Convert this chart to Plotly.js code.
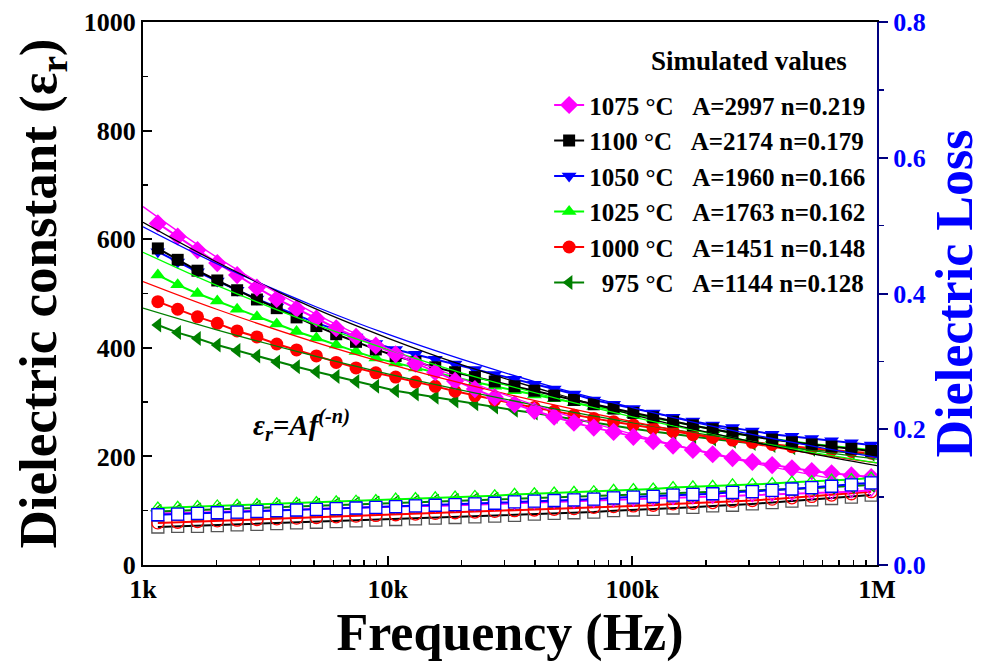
<!DOCTYPE html>
<html>
<head>
<meta charset="utf-8">
<script src="https://cdn.plot.ly/plotly-3.0.1.min.js"></script>
<style>html,body{margin:0;padding:0;background:#fff;}</style>
</head>
<body>
<div id="chart" style="width:984px;height:664px;"></div>
<script>
// Measurement frequencies (Hz)
const freq = [1150, 1386, 1670, 2012, 2425, 2922, 3521, 4243, 5113, 6161,
  7424, 8946, 10780, 12990, 15650, 18860, 22730, 27390, 33000, 39770,
  47920, 57740, 69580, 83840, 101000, 121700, 146700, 176800, 213000, 256700,
  309300, 372700, 449100, 541200, 652100, 785800, 946900];

// Dielectric constant (left axis)
const eps1075 = [629, 605, 580, 556, 534, 511, 490, 472, 454, 436,
  420, 404, 388, 371, 355, 339, 324, 309, 296, 284,
  273, 262, 253, 245, 236, 228, 220, 212, 204, 197,
  190, 184, 178, 173, 169, 165, 162];
const eps1100 = [583, 562, 542, 524, 506, 489, 473, 456, 440, 425,
  411, 397, 385, 374, 364, 355, 346, 338, 329, 321,
  312, 304, 296, 288, 280, 272, 264, 257, 250, 243,
  237, 231, 226, 222, 218, 214, 210];
const eps1050 = [577, 558, 540, 523, 506, 490, 475, 460, 446, 433,
  420, 408, 397, 388, 379, 370, 360, 351, 342, 333,
  324, 315, 304, 296, 288, 280, 272, 265, 258, 253,
  247, 241, 237, 233, 229, 225, 221];
const eps1025 = [534, 516, 500, 486, 471, 457, 444, 430, 418, 405,
  393, 381, 372, 363, 354, 345, 337, 329, 321, 313,
  306, 299, 292, 284, 277, 270, 263, 256, 249, 243,
  237, 232, 227, 223, 219, 215, 212];
const eps1000 = [485, 471, 457, 445, 431, 420, 407, 396, 385, 373,
  363, 354, 346, 337, 329, 320, 312, 304, 297, 290,
  283, 276, 270, 264, 258, 252, 246, 240, 235, 230,
  226, 222, 218, 215, 212, 209, 206];
const eps975 = [442, 428, 417, 405, 395, 385, 374, 365, 356, 347,
  338, 329, 321, 315, 309, 302, 297, 291, 285, 280,
  274, 268, 262, 256, 251, 246, 241, 236, 232, 228,
  224, 220, 216, 213, 210, 207, 204];

// Simulated (fit) curves read at these frequencies
const fitFreq = [1000, 2000, 5000, 10000, 20000, 50000, 100000, 200000, 500000, 1000000];
const fit1075 = [660, 567, 464, 399, 343, 280, 241, 207, 169, 145];
const fit1100 = [631, 558, 473, 418, 369, 314, 277, 245, 208, 183];
const fit1050 = [623, 555, 477, 425, 379, 325, 290, 258, 222, 198];
const fit1025 = [576, 515, 444, 397, 354, 306, 273, 244, 210, 188];
const fit1000 = [522, 471, 411, 371, 335, 293, 264, 238, 208, 188];
const fit975  = [473, 433, 385, 352, 322, 286, 262, 240, 213, 195];

// Dielectric loss (right axis)
const loss1075 = [.076, .076, .077, .078, .079, .080, .081, .082, .082, .083,
  .084, .085, .086, .087, .087, .088, .089, .090, .091, .092,
  .093, .093, .094, .095, .096, .097, .098, .099, .100, .101,
  .102, .103, .104, .105, .106, .108, .110];
const loss1100 = [.056, .057, .057, .058, .059, .060, .061, .062, .063, .064,
  .065, .066, .067, .068, .069, .070, .071, .072, .073, .075,
  .076, .077, .078, .080, .081, .082, .084, .085, .087, .088,
  .090, .092, .094, .096, .098, .100, .103];
const loss1050 = [.074, .075, .076, .077, .078, .079, .080, .081, .082, .083,
  .084, .085, .086, .087, .088, .089, .090, .091, .093, .094,
  .095, .096, .097, .099, .100, .101, .103, .104, .105, .107,
  .108, .110, .112, .114, .116, .118, .121];
const loss1025 = [.084, .085, .086, .087, .088, .089, .090, .091, .092, .093,
  .094, .095, .097, .098, .099, .100, .101, .102, .104, .105,
  .106, .107, .108, .110, .111, .112, .114, .115, .116, .118,
  .119, .120, .122, .123, .125, .126, .128];
const loss1000 = [.062, .063, .064, .065, .066, .067, .068, .069, .070, .071,
  .072, .073, .074, .075, .076, .077, .078, .079, .080, .081,
  .082, .083, .085, .086, .087, .088, .090, .091, .092, .094,
  .095, .097, .099, .101, .103, .105, .108];
const loss975 = [.079, .080, .081, .082, .083, .085, .086, .087, .088, .089,
  .090, .091, .092, .093, .094, .095, .096, .097, .098, .099,
  .100, .101, .102, .103, .104, .105, .106, .107, .108, .109,
  .110, .111, .112, .113, .115, .116, .118];

const SP = '\u00A0\u00A0\u00A0';
const legendLabels = {
  t1075: '1075 °C' + SP + 'A=2997 n=0.219',
  t1100: '1100 °C' + SP + 'A=2174 n=0.179',
  t1050: '1050 °C' + SP + 'A=1960 n=0.166',
  t1025: '1025 °C' + SP + 'A=1763 n=0.162',
  t1000: '1000 °C' + SP + 'A=1451 n=0.148',
  t975:  '\u00A0\u00A0975 °C' + SP + 'A=1144 n=0.128'
};
const tickVals = [1e3, 1e4, 1e5, 1e6];
const tickText = ['1k', '10k', '100k', '1M'];

const C = {m:'#FF00FF', k:'#000000', b:'#0000FF', g:'#00FF00', r:'#FF0000', dg:'#008000'};
const FONT = 'Liberation Serif, Times New Roman, serif';

function dataTrace(y, color, symbol, name, rank, size) {
  return {x: freq, y: y, type:'scatter', mode:'lines+markers', name: name, legendrank: rank,
    line:{color: color, width: 2}, marker:{symbol: symbol, size: size || 13, color: color}};
}
function fitTrace(y, color) {
  return {x: fitFreq, y: y, type:'scatter', mode:'lines', showlegend:false,
    line:{color: color, width: 1.3, shape:'spline', smoothing: 1}, hoverinfo:'skip'};
}
function lossTrace(y, color, symbol, fill, lineColor) {
  return {x: freq, y: y, yaxis:'y2', type:'scatter', mode:'lines+markers', showlegend:false,
    line:{color: lineColor || color, width: 2},
    marker:{symbol: symbol, size: 12, color: fill || color, line:{color: color, width: 1.3}}};
}

const traces = [
  dataTrace(eps975, C.dg, 'triangle-left', legendLabels.t975, 6),
  dataTrace(eps1000, C.r, 'circle', legendLabels.t1000, 5),
  dataTrace(eps1025, C.g, 'triangle-up', legendLabels.t1025, 4),
  dataTrace(eps1050, C.b, 'triangle-down', legendLabels.t1050, 3),
  dataTrace(eps1100, C.k, 'square', legendLabels.t1100, 2, 12),
  dataTrace(eps1075, C.m, 'diamond', legendLabels.t1075, 1, 14),
  fitTrace(fit975, C.dg),
  fitTrace(fit1000, C.r),
  fitTrace(fit1025, C.g),
  fitTrace(fit1050, C.b),
  fitTrace(fit1100, C.k),
  fitTrace(fit1075, C.m),
  lossTrace(loss1100, '#555555', 'square-open', null, '#000000'),
  lossTrace(loss1000, C.r, 'circle-open'),
  lossTrace(loss1075, C.m, 'triangle-down-open'),
  lossTrace(loss975, C.dg, 'triangle-left-open'),
  lossTrace(loss1025, C.g, 'triangle-up-open'),
  lossTrace(loss1050, C.b, 'square', '#FFFFFF')
];

const minorX = [];
[1e3, 1e4, 1e5].forEach(d => { for (let k = 2; k <= 9; k++) minorX.push(d * k); });

const layout = {
  width: 984, height: 664,
  margin: {l: 143, r: 107, t: 22, b: 99},
  paper_bgcolor: '#FFFFFF', plot_bgcolor: '#FFFFFF',
  font: {family: FONT, weight: 'bold', color: '#000000', size: 25},
  showlegend: true,
  legend: {x: 0.992, xanchor: 'right', y: 0.889, yanchor: 'top', bgcolor: 'rgba(0,0,0,0)',
    font: {family: FONT, size: 25, weight: 'bold'}, traceorder: 'normal', itemwidth: 30},
  xaxis: {type: 'log', range: [3, 6], tickmode: 'array', tickvals: tickVals, ticktext: tickText,
    ticks: 'inside', ticklen: 9, tickwidth: 2, tickcolor: '#000', linewidth: 2, linecolor: '#000',
    mirror: true, showgrid: false, zeroline: false, tickfont: {family: FONT, size: 26, weight: 'bold'},
    minor: {tickmode: 'array', tickvals: minorX, ticks: 'inside', ticklen: 5, tickwidth: 1.5, tickcolor: '#000', showgrid: false},
    title: {text: 'Frequency (Hz)', font: {family: FONT, size: 52, weight: 'bold'}, standoff: 8}},
  yaxis: {range: [0, 1000], dtick: 200, ticks: 'inside', ticklen: 9, tickwidth: 2, tickcolor: '#000',
    linewidth: 2, linecolor: '#000', showgrid: false, zeroline: false, tickfont: {family: FONT, size: 26, weight: 'bold'},
    minor: {dtick: 100, ticks: 'inside', ticklen: 5, tickwidth: 1.5, tickcolor: '#000', showgrid: false},
    title: {text: 'Dielectric constant (ε<sub>r</sub>)', font: {family: FONT, size: 53, weight: 'bold'}, standoff: 10}},
  yaxis2: {overlaying: 'y', side: 'right', range: [0, 0.8], dtick: 0.2, tickformat: '.1f',
    ticks: 'outside', ticklen: 9, tickwidth: 2, tickcolor: '#000080', linewidth: 2, linecolor: '#000080',
    showgrid: false, zeroline: false, tickfont: {family: FONT, size: 26, color: '#0000FF', weight: 'bold'},
    minor: {dtick: 0.1, ticks: 'outside', ticklen: 5, tickwidth: 1.5, tickcolor: '#000080', showgrid: false},
    title: {text: 'Dielectric Loss', font: {family: FONT, size: 52, color: '#0000FF', weight: 'bold'}, standoff: 10}},
  yaxis3: {overlaying: 'y', side: 'right', anchor: 'x', range: [0, 0.8], dtick: 0.2,
    ticks: 'inside', ticklen: 9, tickwidth: 2, tickcolor: '#000080', showline: false,
    showticklabels: false, showgrid: false, zeroline: false},
  annotations: [
    {text: 'Simulated values', xref: 'paper', yref: 'paper', x: 0.826, y: 0.928, xanchor: 'center', yanchor: 'middle',
     showarrow: false, font: {family: FONT, size: 27, weight: 'bold'}},
    {text: '<i>ε<sub>r</sub>=Af<sup>(-n)</sup></i>', xref: 'paper', yref: 'paper', x: 0.2166, y: 0.258,
     xanchor: 'center', yanchor: 'middle', showarrow: false, font: {family: FONT, size: 29, weight: 'bold'}}
  ]
};

Plotly.newPlot('chart', traces, layout, {displayModeBar: false, staticPlot: true});
</script>
</body>
</html>
